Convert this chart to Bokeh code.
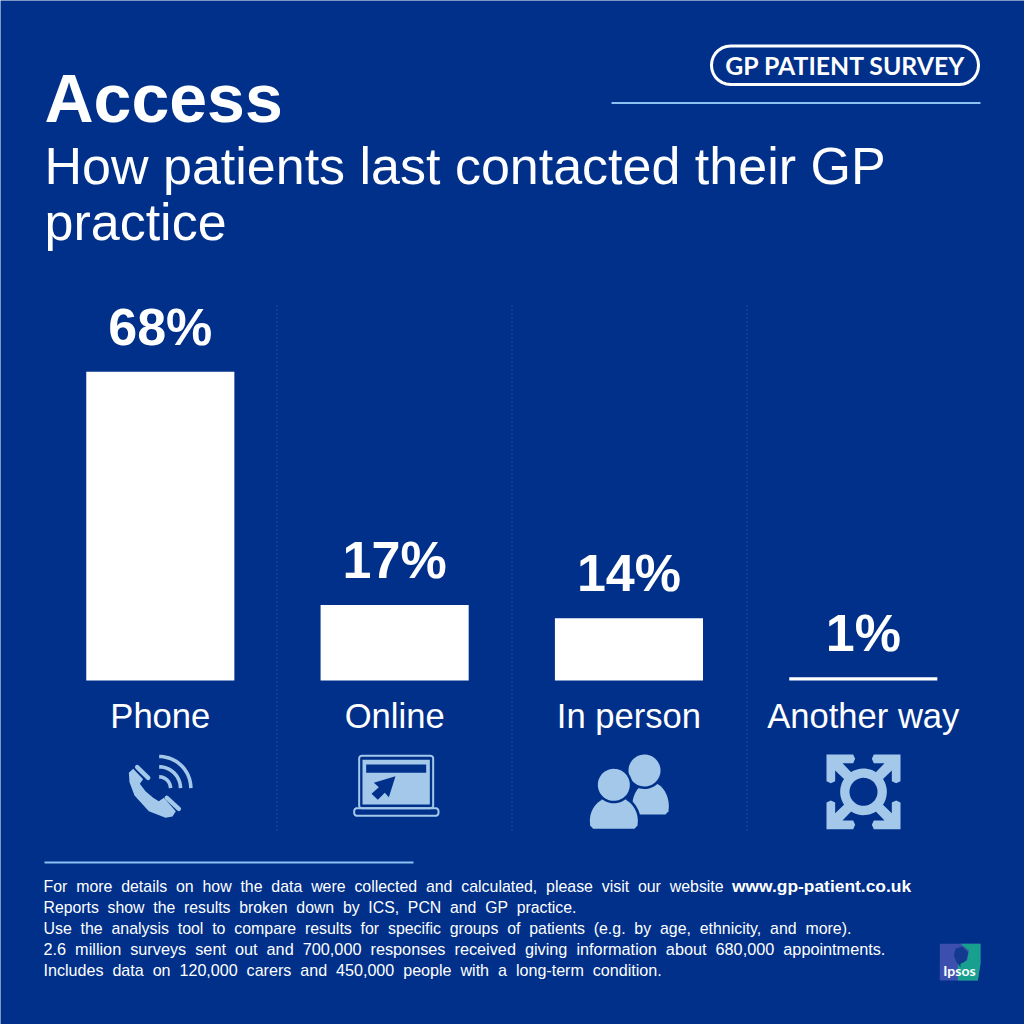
import numpy as np
from bokeh.plotting import figure
from bokeh.models import Range1d
from bokeh.core.properties import value
from bokeh.embed import file_html
from bokeh.resources import INLINE

categories = ["Phone", "Online", "In person", "Another way"]
shares = [68, 16.6, 13.7, 0.7]
share_labels = ["68%", "17%", "14%", "1%"]
title = "Access"
subtitle_lines = ["How patients last contacted their GP", "practice"]
footer_lines = [
    "For more details on how the data were collected and calculated, please visit our website",
    "Reports show the results broken down by ICS, PCN and GP practice.",
    "Use the analysis tool to compare results for specific groups of patients (e.g. by age, ethnicity, and more).",
    "2.6 million surveys sent out and 700,000 responses received giving information about 680,000 appointments.",
    "Includes data on 120,000 carers and 450,000 people with a long-term condition.",
]
footer_link = "www.gp-patient.co.uk"

BG = "#00308a"
LIGHT = "#a3c8ea"
RULE = "#8cc0f2"
SANS = "Liberation Sans"
DROP = 0.38  # this renderer sets "alphabetic" text lower by this share of the font size

# 234.3 px per category, first centre at 160 px, 4.54 px per percentage point
p = figure(width=1024, height=1024, output_backend="svg", toolbar_location=None,
           x_range=Range1d(-0.682, 3.688),
           y_range=Range1d(-75.8, 149.8),
           x_axis_location=None, y_axis_location=None,
           background_fill_color=BG, border_fill_color=BG, outline_line_color=None,
           min_border=0)
p.grid.visible = False
p.extra_x_ranges = {"px": Range1d(0, 1024)}
p.extra_y_ranges = {"px": Range1d(1024, 0)}
PX = dict(x_range_name="px", y_range_name="px")
slots = list(range(len(categories)))


def txt(x, y, s, size, color="white", style="normal", font=SANS, align="left"):
    p.text(x=[x], y=[y - DROP * size], text=[s], text_color=color, text_font=value(font),
           text_font_size=f"{size}px", text_font_style=style, text_align=align,
           text_baseline="alphabetic", **PX)


def zpoly(xs, ys, ox, oy, color):
    p.patch([ox + a / 3 for a in xs], [oy + b / 3 for b in ys], fill_color=color, line_color=None, **PX)


def rrect(x0, y0, x1, y1, r, fill=None, line=None, lw=1.0):
    t = np.linspace(0, np.pi / 2, 8)
    xs = np.r_[x1 - r + r * np.sin(t), x1 - r + r * np.cos(t), x0 + r - r * np.sin(t), x0 + r - r * np.cos(t)]
    ys = np.r_[y0 + r - r * np.cos(t), y1 - r + r * np.sin(t), y1 - r + r * np.cos(t), y0 + r - r * np.sin(t)]
    p.patch(xs, ys, fill_color=fill or BG, fill_alpha=1 if fill else 0, line_color=line or BG, line_width=lw,
            line_alpha=1 if line else 0, **PX)


def circ(cx, cy, r, color):
    t = np.linspace(0, 2 * np.pi, 60)
    p.patch(cx + r * np.cos(t), cy + r * np.sin(t), fill_color=color, line_color=None, **PX)


def dome(ox, oy, x0, x1, top, bottom, color):
    """Shoulders of a person: half ellipse over a base with rounded corners, in crop units."""
    cx, rx = (x0 + x1) / 2, (x1 - x0) / 2
    mid = top + (bottom - top) * 0.75
    t = np.linspace(np.pi, 2 * np.pi, 30)
    xs = np.r_[cx + rx * np.cos(t), x1 - 1, x1 - 10, x0 + 10, x0 + 1]
    ys = np.r_[mid + (mid - top) * np.sin(t), bottom - 10, bottom, bottom, bottom - 10]
    zpoly(xs, ys, ox, oy, color)


# separators
for sx in (276.5, 511.5, 746.5):
    p.line([sx, sx], [305, 830], line_color="#3a68ae", line_width=1, line_dash="1 3", **PX)

# bars and their labels
p.vbar(x=slots, top=shares, bottom=0, width=0.632, fill_color="white", line_color=None)
p.text(x=slots, y=shares, text=share_labels, text_color="white", text_font=value(SANS),
       text_font_size="52px", text_font_style="bold", text_align="center", text_baseline="alphabetic",
       y_offset=-25 - DROP * 52)
p.text(x=slots, y=[0] * 4, text=categories, text_color="white", text_font=value(SANS),
       text_font_size="34.6px", text_align="center", text_baseline="alphabetic", y_offset=49 - DROP * 34.6)

# header
txt(44, 123, title, 68, style="bold")
for ln, yy in zip(subtitle_lines, (185, 241)):
    txt(44, yy, ln, 52)
rrect(711, 45.5, 978, 84, 19, line="white", lw=3)
txt(845, 74, "GP PATIENT SURVEY", 24.8, style="bold", font="Lato", align="center")
p.line([611, 980], [102.5, 102.5], line_color=RULE, line_width=2, **PX)

# footer: the original sets its words far apart, so each gap is a no-break space plus a space
p.line([44, 413], [862, 862], line_color=RULE, line_width=2, **PX)
for ln, yy, fs in zip(footer_lines, (892, 913, 934, 955, 976), (15.9, 15.8, 15.9, 16.25, 16.1)):
    txt(43, yy, ln.replace(" ", "\u00a0 "), fs)
txt(731.5, 892, footer_link, 17.4, style="bold")

# phone icon
ox, oy = 100, 740
zpoly([85, 98, 128, 118, 135, 158, 175, 190, 226, 216, 195, 145, 102, 87],
      [97, 85, 116, 130, 152, 172, 182, 172, 212, 228, 232, 212, 165, 125], ox, oy, LIGHT)
for (a, b, c, d) in ((110, 80, 143, 112), (199, 172, 235, 205)):
    p.line([ox + a / 3, ox + c / 3], [oy + b / 3, oy + d / 3], line_color=LIGHT, line_width=4.5,
           line_cap="round", **PX)
for r in (95, 64, 34):
    t = np.linspace(-np.pi / 2, 0, 24)
    p.line(ox + (176 + r * np.cos(t)) / 3, oy + (143 + r * np.sin(t)) / 3, line_color=LIGHT, line_width=3.6, **PX)

# laptop icon
rrect(ox + 776 / 3, oy + 46 / 3, ox + 998 / 3, oy + 203 / 3, 2.5, line=LIGHT, lw=2)
zpoly([786, 988, 988, 786], [58, 58, 192, 192], ox, oy, LIGHT)
zpoly([797, 977, 977, 797], [72, 72, 97, 97], ox, oy, BG)
zpoly([885, 820, 835, 813, 832, 853, 865], [107, 127, 140, 160, 178, 157, 170], ox, oy, BG)
rrect(ox + 761 / 3, oy + 203 / 3, ox + 1014 / 3, oy + 226 / 3, 3, line=LIGHT, lw=2)

# people icon
ox, oy = 570, 740
dome(ox, oy, 185, 295, 125, 222, LIGHT)
circ(ox + 222 / 3, oy + 90 / 3, 18.5, BG)
circ(ox + 222 / 3, oy + 90 / 3, 16, LIGHT)
dome(ox, oy, 48, 212, 158, 280, BG)
dome(ox, oy, 58, 202, 168, 265, LIGHT)
circ(ox + 130 / 3, oy + 133 / 3, 18.5, BG)
circ(ox + 130 / 3, oy + 133 / 3, 16, LIGHT)

# four-way arrows icon
cx, cy = 879, 154
for sx, sy in ((1, 1), (-1, 1), (1, -1), (-1, -1)):
    lx = np.array([0, 80, 86, 80, 48, 92, 72, 26, 26, 13, 0])
    ly = np.array([0, 0, 13, 26, 26, 72, 92, 48, 80, 86, 80])
    zpoly(cx - sx * (111 - lx), cy - sy * (112 - ly), ox, oy, LIGHT)
circ(ox + cx / 3, oy + cy / 3, 70 / 3, LIGHT)
circ(ox + cx / 3, oy + cy / 3, 42 / 3, BG)

# research-company mark
ox, oy = 900, 920
zpoly([118, 240, 240, 232, 118], [70, 70, 130, 180, 180], ox, oy, "#3d4fae")
zpoly([180, 240, 240, 232, 172, 172, 200, 205], [70, 70, 130, 180, 180, 130, 120, 90], ox, oy, "#17a08e")
zpoly([165, 185, 203, 198, 190, 180, 180, 168, 160], [85, 78, 95, 118, 125, 130, 140, 125, 105], ox, oy, "#123a8e")
txt(959, 975, "Ipsos", 14, style="bold", font="Lato", align="center")

open("out.html", "w").write(file_html(p, INLINE))
